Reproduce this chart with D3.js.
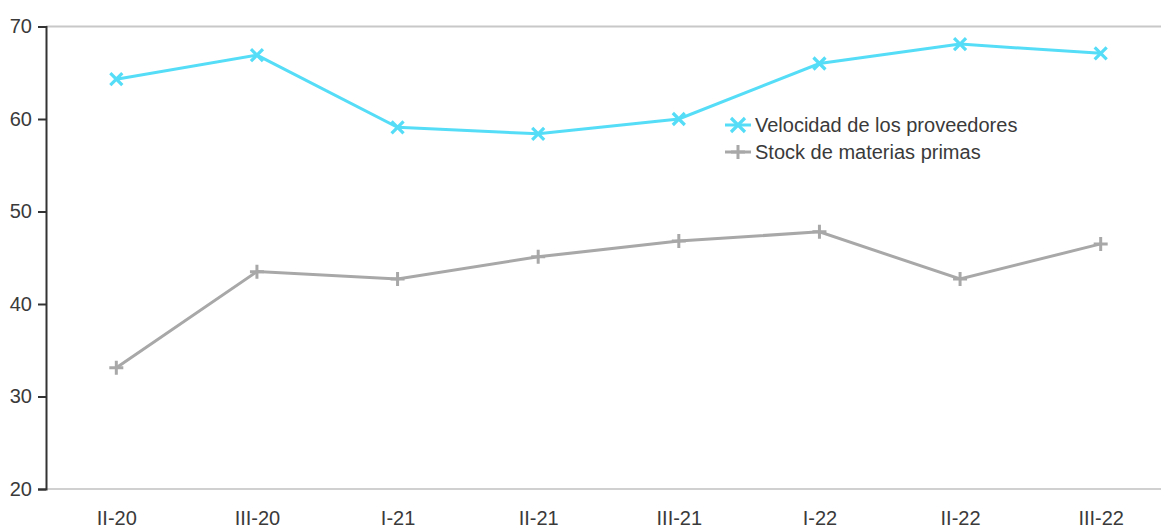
<!DOCTYPE html>
<html>
<head>
<meta charset="utf-8">
<script src="https://cdn.jsdelivr.net/npm/d3@7"></script>
<style>
  html, body { margin: 0; padding: 0; background: #fff; }
  svg text { font-family: "Liberation Sans", Arial, sans-serif; fill: #3a3a3a; }
</style>
</head>
<body>
<svg id="chart" width="1161" height="531"></svg>
<script>
// Quarters on the horizontal axis
const quarters = ["II-20", "III-20", "I-21", "II-21", "III-21", "I-22", "II-22", "III-22"];
// Supplier delivery speed index
const velocidad = [64.3, 66.9, 59.1, 58.4, 60.0, 66.0, 68.1, 67.1];
// Raw materials stock index
const stock = [33.1, 43.5, 42.7, 45.1, 46.8, 47.8, 42.7, 46.5];
const yTicks = [20, 30, 40, 50, 60, 70];
const seriesNames = ["Velocidad de los proveedores", "Stock de materias primas"];

const svg = d3.select("#chart");
const plotLeft = 46, plotRight = 1171, plotTop = 26.5, plotBottom = 489;

const x = d3.scalePoint().domain(quarters).range([plotLeft, plotRight]).padding(0.5);
const y = d3.scaleLinear().domain([20, 70]).range([plotBottom, plotTop]);

// Frame: top and bottom light grey lines
svg.append("line").attr("x1", plotLeft).attr("x2", 1161).attr("y1", plotTop).attr("y2", plotTop)
  .attr("stroke", "#c8c8c8").attr("stroke-width", 2);
svg.append("line").attr("x1", plotLeft).attr("x2", 1161).attr("y1", plotBottom).attr("y2", plotBottom)
  .attr("stroke", "#d0d0d0").attr("stroke-width", 2);

// Left value axis
const yAxis = svg.append("g").attr("transform", `translate(${plotLeft},0)`)
  .call(d3.axisLeft(y).tickValues(yTicks).tickSize(8).tickPadding(6).tickFormat(d3.format("d")));
yAxis.select(".domain").attr("stroke", "#333").attr("stroke-width", 2);
yAxis.selectAll(".tick line").attr("stroke", "#333").attr("stroke-width", 2);
yAxis.selectAll(".tick text").attr("font-size", 20).attr("fill", "#3a3a3a");

// Category axis labels
const xAxis = svg.append("g").attr("transform", `translate(0,${plotBottom})`)
  .call(d3.axisBottom(x).tickSize(0).tickPadding(22));
xAxis.select(".domain").remove();
xAxis.selectAll(".tick text").attr("font-size", 20).attr("fill", "#3a3a3a");

const line = d3.line().x((d, i) => x(quarters[i])).y(d => y(d));

const blue = "#55ddf7", grey = "#a8a8a8";

function drawX(g, cx, cy, s, color) {
  g.append("path").attr("d", `M${cx - s},${cy - s}L${cx + s},${cy + s}M${cx - s},${cy + s}L${cx + s},${cy - s}`)
    .attr("stroke", color).attr("stroke-width", 3.2).attr("fill", "none");
}
function drawPlus(g, cx, cy, s, color) {
  g.append("path").attr("d", `M${cx - s},${cy}L${cx + s},${cy}M${cx},${cy - s}L${cx},${cy + s}`)
    .attr("stroke", color).attr("stroke-width", 3).attr("fill", "none");
}

// Stock series
const gS = svg.append("g");
gS.append("path").datum(stock).attr("d", line).attr("fill", "none")
  .attr("stroke", grey).attr("stroke-width", 3);
stock.forEach((v, i) => drawPlus(gS, x(quarters[i]), y(v), 7, grey));

// Supplier speed series
const gV = svg.append("g");
gV.append("path").datum(velocidad).attr("d", line).attr("fill", "none")
  .attr("stroke", blue).attr("stroke-width", 3);
velocidad.forEach((v, i) => drawX(gV, x(quarters[i]), y(v), 6, blue));

// Legend
const legend = svg.append("g").attr("transform", "translate(725,125)");
const legendColors = [blue, grey];
seriesNames.forEach((name, i) => {
  const ly = i * 27;
  const item = legend.append("g");
  item.append("line").attr("x1", 0).attr("x2", 26).attr("y1", ly).attr("y2", ly)
    .attr("stroke", legendColors[i]).attr("stroke-width", 3);
  if (i === 0) drawX(item, 13, ly, 7, blue);
  else drawPlus(item, 13, ly, 7, grey);
  item.append("text").attr("x", 30).attr("y", ly).attr("dy", "0.35em")
    .attr("font-size", 20).text(name);
});
</script>
</body>
</html>
